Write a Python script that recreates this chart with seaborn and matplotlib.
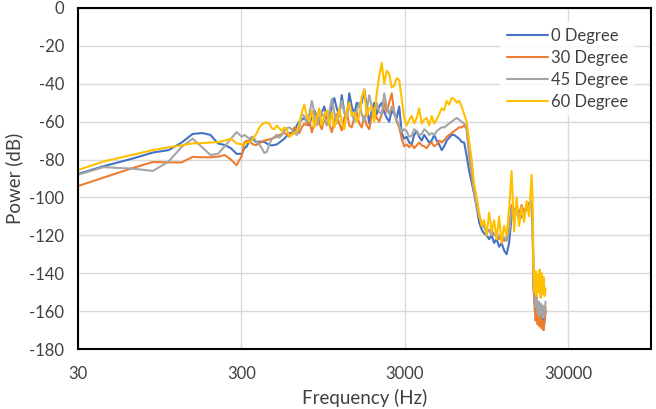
import pandas as pd
import seaborn as sns
import matplotlib.pyplot as plt
from matplotlib.ticker import FixedLocator, FuncFormatter, NullLocator

# frequency points (Hz)
freq = [21.5, 43.1, 64.6, 86.1, 107.7, 129.2, 150.7, 172.3, 193.8, 215.3, 236.9, 258.4, 280.0,
        301.5, 312.3, 323.5, 335.1, 347.1, 359.5, 372.4, 385.7, 399.5, 413.8,
        428.6, 444.0, 459.9, 476.3, 493.4, 511.0, 529.3, 548.3, 567.9, 588.3,
        609.3, 631.1, 653.7, 677.1, 701.4, 726.5, 752.5, 779.5, 807.4, 836.3,
        866.2, 897.2, 929.3, 962.6, 997.1, 1032.8, 1069.8, 1108.1, 1147.8, 1188.9,
        1231.5, 1275.6, 1321.3, 1368.6, 1417.6, 1468.4, 1521.0, 1575.4, 1631.8, 1690.2,
        1750.7, 1813.4, 1878.3, 1945.6, 2015.3, 2087.4, 2162.2, 2239.6, 2319.8, 2402.8,
        2488.8, 2577.9, 2670.2, 2765.8, 2864.8, 2967.4, 3073.6, 3183.6, 3297.6, 3415.7,
        3538.0, 3664.6, 3795.8, 3931.7, 4072.5, 4218.3, 4369.3, 4525.7, 4687.7, 4855.5,
        5029.3, 5209.4, 5395.9, 5589.1, 5789.2, 5996.4, 6211.1, 6433.4, 6663.7, 6902.3,
        7149.4, 7405.3, 7670.4, 7945.0, 8229.4, 8524.0, 8829.2, 9145.3, 9472.7, 9811.8,
        10163, 10527, 10904, 11294, 11698, 12117, 12551, 13000, 13466, 13948,
        14447, 14964, 15500, 16055, 16630, 17225,
        17842,
        18100, 18360, 18620, 18880, 19150, 19420, 19700, 19980, 20260, 20550,
        20840, 21130, 21430, 21730]

deg0 = [-91.4, -83.5, -79.5, -76.3, -75, -71, -66.5, -66, -67, -71.5, -72.3, -74, -77,
        -77, -74, -73, -70, -68.6, -70, -71, -70.5, -70.7, -70.7,
        -71.5, -72.3, -72.5, -72.3, -72, -71, -70, -69, -67.5, -66,
        -66, -65, -62, -60, -59, -58, -60, -62, -57, -54,
        -57, -60, -55, -52, -58, -60, -52, -47.5, -53, -57,
        -46, -55, -58, -45, -52, -56, -50, -52, -50, -43,
        -52, -61, -54, -50, -56, -52, -50, -55, -58, -60,
        -54, -56, -58, -52, -66, -69, -68, -71, -72, -67,
        -65, -68, -70, -67, -69, -71, -70, -67, -70, -72,
        -75, -73, -70, -68.5, -67, -67, -68, -69, -70.7, -71,
        -78, -86, -92, -98, -105, -113, -117, -119, -120, -122,
        -120, -124, -122, -126, -124, -128, -130, -124, -110, -108,
        -104, -112, -110, -108, -106, -103,
        -105,
        -115, -148, -155, -162, -158, -165, -160, -166, -162, -168,
        -164, -170, -165, -160]

deg30 = [-98.1, -89.5, -84.5, -81.3, -81.5, -81.5, -78.6, -78.8, -78.8, -78.5, -77.6, -80, -83,
         -78, -71, -70, -70.5, -71.5, -72.3, -72.3, -71.5, -70.5, -70,
         -69.7, -69.3, -69, -68.5, -68, -67, -66.5, -66, -66.5, -68,
         -66, -63, -64.5, -66, -63, -61, -62, -59, -65.6, -61,
         -56, -61, -64, -59, -55.5, -61, -65.6, -60, -56, -61,
         -64.6, -58, -55, -62, -63, -58, -55, -61, -63, -57,
         -62, -64, -57, -54, -58, -60, -56, -50, -55, -50,
         -45, -55, -60, -63, -69, -73, -72, -73.5, -72, -74,
         -72.5, -71, -72.5, -73, -74, -72, -71, -73, -72, -70,
         -71, -69.7, -68, -67, -66, -65, -64, -63, -63, -62,
         -64, -78, -88, -98, -104, -110, -113, -116, -117, -118,
         -117, -120, -119, -122, -120, -123, -122, -117, -104, -110,
         -106, -109, -104, -108, -104, -106,
         -103,
         -113, -148, -158, -165, -160, -167, -162, -168, -163, -169,
         -165, -170, -164, -158]

deg45 = [-91.7, -84, -84.8, -86, -81, -73.3, -69, -73.5, -77.6, -77, -73, -69, -65.5,
         -68, -67, -68, -69, -68, -69, -71, -72, -74, -76.5,
         -76, -72, -69, -68, -67, -68.5, -67, -65, -63.5, -63,
         -64, -66, -67, -63, -56, -57, -60, -56, -49, -55,
         -62, -58, -55, -58, -62, -55, -48, -55, -61, -55,
         -49, -55, -58, -50, -55, -60, -54, -50, -56, -60,
         -54, -46, -52, -56, -50, -55, -56, -45, -52, -56,
         -52, -55, -59, -62, -65.5, -64, -65, -68, -67.5, -64,
         -65, -67, -66.5, -64, -65, -67, -66, -67, -65, -64,
         -63, -63, -62, -61, -60, -59, -58, -59, -60, -61,
         -63, -75, -86, -97, -104, -110, -114, -116, -118, -117,
         -120, -119, -121, -120, -122, -121, -123, -118, -106, -112,
         -107, -110, -106, -109, -105, -104,
         -102,
         -112, -145, -150, -158, -152, -161, -155, -163, -156, -162,
         -157, -163, -160, -155]

deg60 = [-89.6, -81, -77.5, -75, -73.5, -72.5, -71.5, -71.3, -71, -70.8, -70, -69, -71.5,
         -72, -72, -71, -70.7, -70, -68, -66, -63, -61.5, -60.5,
         -60.5, -61, -63.5, -64, -62, -63.5, -65, -63, -64, -68,
         -67, -66, -65, -61, -55, -51, -57, -60, -54, -63,
         -58, -53, -62, -57, -54, -62, -55, -63, -59, -53,
         -60, -64, -54, -50, -57, -55, -60, -57, -47, -43,
         -57, -53, -52, -60, -45, -36, -29, -40, -33, -35,
         -42, -41, -37, -38, -48, -58, -62, -59, -57, -61,
         -58, -53, -61, -59, -58, -62, -57, -61, -59, -56,
         -53, -54, -49, -51, -47.5, -48, -50, -49, -52, -56,
         -60, -70, -80, -93, -100, -108, -115, -112, -120, -108,
         -118, -112, -122, -110, -124, -115, -120, -106, -86, -118,
         -100, -115, -105, -113, -102, -110,
         -88,
         -100, -140, -150, -139, -152, -141, -150, -138, -153, -140,
         -151, -142, -152, -148]

labels = ["0 Degree", "30 Degree", "45 Degree", "60 Degree"]
colors = ["#4472C4", "#ED7D31", "#A5A5A5", "#FFC000"]

rows = []
for name, vals in zip(labels, [deg0, deg30, deg45, deg60]):
    for f, v in zip(freq, vals):
        rows.append((name, f, v))
df = pd.DataFrame(rows, columns=["series", "freq", "power"])

sns.set_style("white")
plt.rcParams['font.family'] = ['Lato', 'DejaVu Sans']
plt.rcParams['axes.unicode_minus'] = False

fig = plt.figure(figsize=(6.56, 4.09), dpi=100)
ax = fig.add_axes([78 / 656, 1 - 349 / 409, 573 / 656, 341 / 409])

sns.lineplot(data=df, x="freq", y="power", hue="series", hue_order=labels,
             palette=colors, estimator=None, sort=False, lw=1.5, ax=ax)

ax.set_xscale("log")
ax.set_xlim(30, 95900)
ax.set_ylim(-180, 0)
ax.xaxis.set_major_locator(FixedLocator([30, 300, 3000, 30000]))
ax.xaxis.set_minor_locator(NullLocator())
ax.xaxis.set_major_formatter(FuncFormatter(lambda v, p: f"{v:g}"))
ax.set_yticks(range(-180, 1, 20))
ax.set_axisbelow(True)
ax.grid(True, color="#d9d9d9", lw=1)
ax.tick_params(length=0, labelsize=12, colors="#404040")
ax.tick_params(axis="x", pad=12)
ax.tick_params(axis="y", pad=10)
for s in ax.spines.values():
    s.set_color("black")
    s.set_linewidth(1.5)

ax.set_xlabel("Frequency (Hz)", fontsize=13.5, color="#404040", labelpad=5)
ax.set_ylabel("Power (dB)", fontsize=13.5, color="#404040", labelpad=4)

handles, labs = ax.get_legend_handles_labels()
ax.legend(handles, labs, loc="upper left", bbox_to_anchor=(0.7365, 0.962),
          frameon=True, facecolor="white", edgecolor="none", fancybox=False,
          fontsize=12, handlelength=2.45, handletextpad=0.2, labelspacing=0.36,
          borderpad=0.4, borderaxespad=0)
for t in ax.get_legend().get_texts():
    t.set_color("#404040")

fig.savefig("out.png", dpi=100)
